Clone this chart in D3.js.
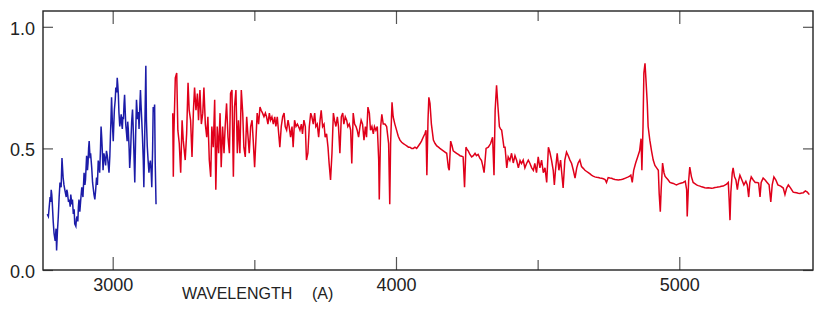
<!DOCTYPE html>
<html>
<head>
<meta charset="utf-8">
<script src="https://cdn.jsdelivr.net/npm/d3@7"></script>
<style>
  body { margin: 0; background: #fff; }
  text { font-family: "Liberation Sans", Arial, sans-serif; fill: #222; }
</style>
</head>
<body>
<script>
// Blue (UV) part of the spectrum: [wavelength, flux]
var blueSpec = [
  [2769,0.23],[2773,0.22],[2776,0.26],[2779,0.30],[2781,0.28],[2783,0.33],[2785,0.31],[2787,0.27],
  [2790,0.20],[2793,0.15],[2797,0.12],[2800,0.17],[2802,0.08],[2805,0.16],[2808,0.22],[2811,0.30],
  [2814,0.36],[2818,0.34],[2821,0.46],[2823,0.42],[2825,0.38],[2828,0.35],[2831,0.33],
  [2836,0.30],[2838,0.33],[2840,0.32],[2844,0.28],[2847,0.29],[2850,0.26],[2852,0.31],[2856,0.27],
  [2858,0.29],[2861,0.23],[2864,0.25],[2866,0.19],[2870,0.18],[2872,0.21],[2874,0.22],[2877,0.20],
  [2879,0.26],[2881,0.29],[2884,0.24],[2888,0.30],[2891,0.34],[2893,0.32],[2895,0.30],[2899,0.40],
  [2902,0.35],[2904,0.37],[2906,0.42],[2908,0.47],[2911,0.41],[2913,0.44],[2915,0.50],[2917,0.53],
  [2920,0.46],[2922,0.48],[2924,0.45],[2926,0.42],[2929,0.36],[2931,0.34],[2934,0.31],
  [2937,0.29],[2940,0.33],[2943,0.38],[2946,0.35],[2949,0.45],[2952,0.43],[2954,0.40],[2957,0.50],
  [2959,0.59],[2961,0.55],[2963,0.50],[2966,0.41],[2969,0.48],[2972,0.46],[2975,0.43],[2978,0.49],
  [2981,0.47],[2983,0.45],[2987,0.40],[2990,0.47],[2992,0.55],[2994,0.62],[2996,0.71],[2999,0.60],
  [3002,0.53],[3004,0.60],[3006,0.66],[3009,0.70],[3011,0.75],[3014,0.73],[3016,0.79],[3018,0.76],
  [3020,0.72],[3022,0.65],[3025,0.59],[3028,0.62],[3030,0.64],[3032,0.60],[3034,0.58],
  [3036,0.63],[3038,0.62],[3040,0.68],[3042,0.72],[3044,0.66],[3046,0.60],[3049,0.56],[3051,0.53],
  [3053,0.61],[3055,0.58],[3058,0.50],[3060,0.42],[3063,0.48],[3065,0.55],[3067,0.61],
  [3070,0.66],[3072,0.60],[3074,0.52],[3076,0.44],[3078,0.36],[3081,0.55],[3084,0.70],[3086,0.66],
  [3088,0.62],[3091,0.65],[3093,0.58],[3096,0.68],[3098,0.74],[3100,0.68],
  [3102,0.63],[3105,0.55],[3108,0.45],[3110,0.34],[3113,0.55],[3117,0.84],[3119,0.62],[3122,0.51],
  [3125,0.45],[3128,0.40],[3130,0.43],
  [3133,0.45],[3136,0.40],[3138,0.34],[3141,0.50],[3143,0.67],[3146,0.65],[3148,0.68],[3150,0.45],
  [3153,0.27]
];

// Red (optical) part of the spectrum: [wavelength, flux]
var redSpec = [
  [3212,0.645],[3214,0.383],[3216,0.56],[3221,0.79],[3226,0.81],[3230,0.575],[3235,0.52],
  [3240,0.40],[3245,0.616],[3249,0.534],[3256,0.452],[3261,0.56],[3266,0.77],[3270,0.657],
  [3275,0.616],[3280,0.465],[3285,0.657],[3289,0.75],[3294,0.657],[3299,0.726],[3303,0.616],
  [3308,0.74],[3313,0.60],[3318,0.645],[3322,0.75],[3327,0.60],[3332,0.546],[3336,0.63],
  [3341,0.452],[3346,0.383],[3350,0.59],[3355,0.505],[3360,0.70],[3364,0.33],[3369,0.59],
  [3374,0.48],[3379,0.645],[3383,0.423],[3388,0.59],[3393,0.48],[3397,0.59],[3402,0.685],
  [3407,0.546],[3412,0.48],[3416,0.726],[3421,0.74],[3426,0.383],[3430,0.67],[3435,0.74],
  [3440,0.48],[3444,0.616],[3449,0.48],[3454,0.74],[3459,0.645],[3463,0.505],[3468,0.465],
  [3473,0.63],[3477,0.56],[3482,0.48],[3487,0.59],[3492,0.616],[3496,0.534],[3501,0.423],
  [3506,0.546],[3510,0.645],[3515,0.60],[3520,0.67],[3524,0.657],[3529,0.645],[3534,0.63],
  [3539,0.645],[3543,0.63],[3548,0.60],[3553,0.645],[3557,0.616],[3562,0.63],[3567,0.60],
  [3572,0.63],[3576,0.59],[3581,0.63],[3586,0.56],[3590,0.505],[3595,0.59],[3600,0.63],
  [3605,0.645],[3609,0.59],[3614,0.575],[3619,0.616],[3623,0.59],[3628,0.546],[3633,0.59],
  [3637,0.505],[3642,0.616],[3647,0.59],[3652,0.60],[3656,0.59],[3661,0.575],[3666,0.60],
  [3670,0.56],[3675,0.616],[3680,0.59],[3684,0.452],[3689,0.48],[3694,0.59],[3699,0.645],
  [3703,0.63],[3708,0.60],[3713,0.645],[3717,0.59],[3722,0.60],[3727,0.546],[3732,0.616],
  [3736,0.657],[3741,0.59],[3746,0.60],[3750,0.546],[3755,0.56],[3760,0.505],[3764,0.438],
  [3769,0.37],[3774,0.48],[3779,0.645],[3783,0.616],[3788,0.59],[3793,0.63],[3797,0.59],
  [3802,0.48],[3807,0.63],[3812,0.645],[3816,0.60],[3821,0.63],[3826,0.616],[3830,0.59],
  [3835,0.60],[3840,0.575],[3844,0.438],[3849,0.645],[3854,0.60],[3859,0.59],[3863,0.575],
  [3868,0.546],[3873,0.59],[3877,0.616],[3882,0.60],[3887,0.534],[3892,0.59],[3896,0.546],
  [3901,0.67],[3906,0.645],[3910,0.575],[3915,0.59],[3920,0.56],[3924,0.59],[3929,0.575],
  [3934,0.59],[3939,0.452],[3941,0.29],[3946,0.59],[3950,0.64],[3955,0.60],[3961,0.60],
  [3967,0.59],[3974,0.52],[3978,0.27],[3981,0.52],[3986,0.69],[3990,0.63],[3996,0.60],
  [4002,0.575],[4008,0.55],[4014,0.534],[4020,0.525],[4026,0.52],[4032,0.515],[4038,0.51],
  [4044,0.505],[4049,0.505],[4055,0.50],[4061,0.50],[4067,0.505],[4073,0.50],[4079,0.51],
  [4085,0.52],[4090,0.53],[4096,0.546],[4102,0.56],[4106,0.575],[4109,0.39],[4113,0.616],
  [4116,0.71],[4120,0.685],[4125,0.60],[4132,0.534],[4138,0.52],[4144,0.51],[4150,0.505],
  [4155,0.50],[4161,0.495],[4167,0.49],[4173,0.485],[4179,0.48],[4185,0.42],[4188,0.41],
  [4193,0.53],[4198,0.51],[4202,0.49],[4208,0.485],[4214,0.48],[4220,0.475],[4226,0.47],
  [4232,0.468],[4237,0.465],[4242,0.34],[4247,0.505],[4251,0.495],[4255,0.49],[4261,0.475],
  [4267,0.465],[4273,0.47],[4279,0.48],[4284,0.47],[4290,0.475],[4296,0.46],[4302,0.45],
  [4306,0.43],[4311,0.40],[4318,0.50],[4326,0.505],[4334,0.52],[4341,0.546],[4346,0.39],
  [4350,0.657],[4355,0.76],[4360,0.67],[4365,0.59],[4369,0.58],[4373,0.575],[4377,0.54],
  [4381,0.505],[4385,0.505],[4391,0.42],[4396,0.465],[4402,0.45],[4408,0.48],[4414,0.44],
  [4420,0.47],[4426,0.45],[4432,0.42],[4438,0.45],[4443,0.438],[4449,0.452],[4455,0.42],
  [4461,0.438],[4467,0.452],[4473,0.438],[4479,0.42],[4485,0.41],[4490,0.438],[4496,0.40],
  [4502,0.465],[4508,0.42],[4514,0.452],[4520,0.40],[4526,0.42],[4532,0.36],[4538,0.505],
  [4543,0.485],[4549,0.452],[4555,0.41],[4559,0.35],[4563,0.41],[4569,0.48],[4575,0.41],
  [4581,0.452],[4585,0.40],[4590,0.337],[4596,0.452],[4602,0.485],[4608,0.47],[4614,0.452],
  [4620,0.438],[4626,0.41],[4632,0.378],[4638,0.42],[4643,0.44],[4649,0.452],[4655,0.425],
  [4661,0.418],[4667,0.41],[4673,0.405],[4679,0.40],[4685,0.395],[4690,0.39],[4696,0.386],
  [4702,0.383],[4708,0.381],[4714,0.38],[4720,0.378],[4726,0.377],[4732,0.375],[4738,0.372],
  [4743,0.36],[4749,0.38],[4755,0.378],[4761,0.377],[4767,0.374],[4773,0.372],[4779,0.371],
  [4785,0.37],[4790,0.371],[4796,0.372],[4802,0.374],[4808,0.377],[4814,0.38],[4820,0.383],
  [4825,0.386],[4829,0.39],[4834,0.36],[4839,0.41],[4846,0.44],[4853,0.465],[4860,0.49],
  [4865,0.54],[4868,0.41],[4872,0.59],[4875,0.81],[4879,0.85],[4882,0.79],[4887,0.685],
  [4890,0.59],[4896,0.534],[4902,0.49],[4908,0.452],[4914,0.43],[4920,0.42],[4926,0.41],
  [4929,0.315],[4933,0.24],[4936,0.33],[4941,0.44],[4946,0.40],[4950,0.385],[4955,0.378],
  [4961,0.37],[4967,0.36],[4973,0.358],[4979,0.356],[4984,0.353],[4990,0.35],[4996,0.353],
  [5002,0.356],[5008,0.358],[5014,0.36],[5021,0.365],[5026,0.33],[5028,0.22],[5033,0.365],
  [5037,0.423],[5043,0.383],[5049,0.36],[5055,0.355],[5061,0.35],[5067,0.347],[5073,0.345],
  [5079,0.342],[5085,0.34],[5090,0.338],[5096,0.337],[5102,0.338],[5108,0.337],[5114,0.336],
  [5120,0.337],[5126,0.339],[5132,0.34],[5137,0.341],[5143,0.342],[5149,0.344],[5155,0.345],
  [5161,0.349],[5167,0.353],[5173,0.36],[5176,0.29],[5179,0.205],[5182,0.32],[5187,0.40],
  [5190,0.42],[5195,0.383],[5200,0.37],[5205,0.33],[5209,0.365],[5214,0.39],[5221,0.37],
  [5228,0.35],[5235,0.365],[5240,0.35],[5245,0.30],[5249,0.36],[5254,0.383],[5261,0.37],
  [5268,0.36],[5275,0.36],[5280,0.358],[5285,0.30],[5289,0.36],[5296,0.378],[5303,0.37],
  [5310,0.36],[5317,0.35],[5323,0.28],[5328,0.35],[5334,0.383],[5341,0.37],[5348,0.35],
  [5358,0.345],[5367,0.337],[5373,0.31],[5379,0.337],[5385,0.35],[5393,0.337],[5402,0.32],
  [5408,0.319],[5414,0.318],[5420,0.316],[5426,0.315],[5432,0.317],[5438,0.318],
  [5445,0.325],[5452,0.32],[5459,0.31]
];

// Axis ticks
var xMajorTicks = [3000, 4000, 5000];
var xMinorTicks = [3500, 4500];
var yTicks = [0, 0.5, 1.0];
var xDomain = [2754, 5472];
var yDomain = [0, 1.065];

var margin = {top: 11, right: 17, bottom: 39, left: 43},
  width = 830 - margin.left - margin.right,
  height = 309 - margin.top - margin.bottom;

var svg = d3.select("body").append("svg")
  .attr("width", 830)
  .attr("height", 309)
  .append("g")
  .attr("transform", "translate(" + margin.left + "," + margin.top + ")");

var x = d3.scaleLinear().domain(xDomain).range([0, width]);
var y = d3.scaleLinear().domain(yDomain).range([height, 0]);

var line = d3.line()
  .x(function (d) { return x(d[0]); })
  .y(function (d) { return y(d[1]); });

// Spectrum curves
svg.append("path")
  .datum(blueSpec)
  .attr("d", line)
  .attr("fill", "none")
  .attr("stroke", "#1c1ca8")
  .attr("stroke-width", 1.5);

svg.append("path")
  .datum(redSpec)
  .attr("d", line)
  .attr("fill", "none")
  .attr("stroke", "#e0001a")
  .attr("stroke-width", 1.5);

// Tick marks pointing inside the frame
function styleAxis(g) {
  g.select(".domain").remove();
  g.selectAll(".tick line").attr("stroke", "#555").attr("stroke-width", 1.2);
  g.selectAll("text")
    .style("font-family", "'Liberation Sans', Arial, sans-serif")
    .style("font-size", "18px")
    .attr("fill", "#222");
}

// bottom
svg.append("g")
  .attr("transform", "translate(0," + height + ")")
  .call(d3.axisBottom(x).tickValues(xMajorTicks).tickSize(-13).tickPadding(8)
    .tickFormat(d3.format("d")))
  .call(styleAxis);
svg.append("g")
  .attr("transform", "translate(0," + height + ")")
  .call(d3.axisBottom(x).tickValues(xMinorTicks).tickSize(-10).tickFormat(""))
  .call(styleAxis);

// top
svg.append("g")
  .call(d3.axisTop(x).tickValues(xMajorTicks).tickSize(-13).tickFormat(""))
  .call(styleAxis);
svg.append("g")
  .call(d3.axisTop(x).tickValues(xMinorTicks).tickSize(-10).tickFormat(""))
  .call(styleAxis);

// left
svg.append("g")
  .call(d3.axisLeft(y).tickValues(yTicks).tickSize(-10).tickPadding(8)
    .tickFormat(d3.format(".1f")))
  .call(styleAxis)
  .selectAll("text").attr("dy", "0.42em");

// right
svg.append("g")
  .attr("transform", "translate(" + width + ",0)")
  .call(d3.axisRight(y).tickValues(yTicks).tickSize(-10).tickFormat(""))
  .call(styleAxis);

// Frame
svg.append("rect")
  .attr("width", width)
  .attr("height", height)
  .attr("fill", "none")
  .attr("stroke", "#222")
  .attr("stroke-width", 1.4);

// X title
var title = svg.append("text")
  .attr("x", 139)
  .attr("y", height + 29)
  .style("font-size", "16px");
title.append("tspan").text("WAVELENGTH");
title.append("tspan").attr("x", 269).text("(A)");
</script>
</body>
</html>
